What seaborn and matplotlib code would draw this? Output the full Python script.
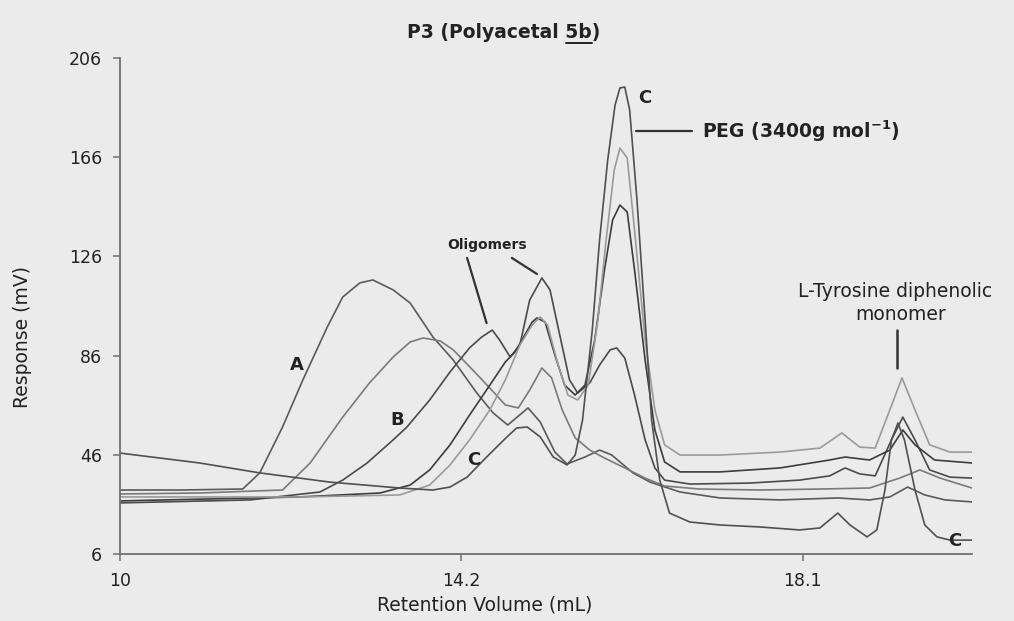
import numpy as np
import pandas as pd
import matplotlib
matplotlib.use("Agg")
import matplotlib.pyplot as plt
from matplotlib.lines import Line2D
import seaborn as sns

# ---------------- data ----------------
a_x = [10.00, 10.74, 11.51, 11.72, 12.00, 12.25, 12.55, 12.74, 12.95, 13.11, 13.36, 13.57, 13.85, 14.10,
       14.39, 14.59, 14.77, 14.90, 15.02, 15.17, 15.35, 15.50, 15.72, 15.90, 16.05, 16.31, 16.52, 16.89,
       17.38, 18.12, 18.83, 19.22, 19.47, 19.69, 19.90, 20.15, 20.48]
a_y = [31.8, 31.8, 32.2, 38.7, 57.2, 76.2, 97.5, 109.6, 115.3, 116.5, 112.5, 107.2, 93.5, 84.2,
       70.9, 62.9, 58.0, 61.6, 64.9, 59.2, 47.1, 42.3, 45.1, 47.9, 45.9, 38.7, 35.0, 31.0,
       28.6, 27.8, 28.6, 27.8, 29.0, 33.0, 29.8, 27.8, 27.0]

a2_x = [10.00, 10.98, 12.00, 12.34, 12.74, 13.07, 13.36, 13.57, 13.73, 13.94, 14.10, 14.34, 14.55, 14.74,
        14.90, 15.04, 15.19, 15.31, 15.44, 15.60, 15.78, 15.96, 16.21, 16.46, 16.70, 17.13, 17.87, 18.61,
        19.22, 19.59, 19.84, 20.09, 20.48]
a2_y = [30.2, 30.6, 31.8, 42.7, 61.2, 75.0, 85.4, 91.5, 93.1, 91.9, 88.3, 80.2, 72.9, 66.1,
        64.9, 72.1, 81.0, 77.0, 64.1, 52.8, 47.9, 44.7, 40.7, 36.6, 33.4, 32.2, 31.8, 32.2,
        32.6, 36.6, 39.9, 36.6, 32.6]

b_x = [10.00, 11.60, 12.46, 12.74, 13.04, 13.36, 13.53, 13.81, 14.06, 14.30, 14.45, 14.58, 14.67, 14.80,
       14.92, 15.04, 15.19, 15.29, 15.41, 15.53, 15.63, 15.78, 15.90, 16.03, 16.11, 16.21, 16.33, 16.46,
       16.58, 16.70, 17.01, 17.75, 18.36, 18.73, 18.92, 19.10, 19.29, 19.49, 19.63, 19.78, 19.96, 20.21, 20.48]
b_y = [26.6, 27.8, 31.0, 35.8, 42.7, 52.0, 57.2, 68.1, 79.4, 89.1, 93.5, 96.3, 92.3, 85.4,
       90.3, 108.4, 117.3, 112.5, 94.3, 76.2, 70.9, 75.0, 82.2, 88.3, 89.1, 85.0, 70.1, 52.0,
       40.7, 35.8, 34.2, 34.6, 35.8, 37.5, 40.7, 38.3, 37.5, 52.0, 61.2, 52.0, 39.9, 37.0, 36.6]

t3_x = [10.00, 12.21, 13.20, 13.57, 13.81, 14.06, 14.30, 14.55, 14.74, 14.86, 14.98, 15.07, 15.13, 15.23,
        15.35, 15.47, 15.60, 15.72, 15.84, 15.96, 16.06, 16.15, 16.24, 16.33, 16.46, 16.58, 16.70, 16.89,
        17.38, 18.12, 18.73, 18.92, 19.22, 19.47, 19.63, 19.78, 20.02, 20.48]
t3_y = [27.4, 29.0, 30.6, 33.8, 39.9, 50.0, 62.0, 74.1, 83.4, 87.5, 94.3, 99.5, 101.2, 99.5,
        86.2, 74.1, 70.1, 74.1, 92.3, 120.5, 140.7, 146.7, 143.9, 120.5, 84.2, 56.0, 43.1, 39.1,
        39.1, 40.7, 43.9, 45.1, 43.9, 47.9, 56.0, 50.0, 43.9, 42.7]

t4_x = [10.00, 12.21, 13.44, 13.81, 14.06, 14.30, 14.55, 14.74, 14.92, 15.07, 15.17, 15.26, 15.39, 15.51,
        15.63, 15.76, 15.88, 15.98, 16.08, 16.15, 16.24, 16.33, 16.46, 16.58, 16.70, 16.89, 17.38, 18.12,
        18.61, 18.88, 19.10, 19.29, 19.47, 19.62, 19.78, 19.96, 20.21, 20.48]
t4_y = [29.0, 29.0, 29.8, 33.8, 41.9, 52.0, 64.1, 76.2, 90.3, 98.3, 101.6, 98.3, 82.2, 70.1,
        68.1, 74.1, 100.4, 132.6, 160.8, 169.7, 165.7, 136.6, 92.3, 64.1, 50.0, 45.9, 45.9, 47.1,
        48.7, 54.8, 49.1, 48.7, 64.1, 77.0, 64.1, 50.0, 47.1, 47.1]

c_x = [10.00, 10.98, 11.72, 12.58, 13.44, 13.85, 14.06, 14.27, 14.51, 14.76, 14.88, 15.01, 15.17, 15.33,
       15.50, 15.60, 15.69, 15.81, 15.90, 16.00, 16.09, 16.15, 16.21, 16.27, 16.36, 16.46, 16.54, 16.64,
       16.76, 17.01, 17.38, 17.87, 18.36, 18.61, 18.83, 18.98, 19.19, 19.31, 19.41, 19.49, 19.57, 19.65,
       19.78, 19.90, 20.05, 20.21, 20.48]
c_y = [46.7, 42.7, 38.7, 35.0, 32.6, 31.8, 33.0, 37.0, 45.1, 53.2, 56.8, 57.2, 53.2, 45.1,
       41.9, 45.9, 60.0, 96.3, 132.6, 164.9, 187.0, 193.9, 194.3, 185.0, 148.7, 100.4, 60.0, 35.8,
       22.5, 18.9, 17.7, 16.9, 15.7, 16.5, 22.5, 17.7, 12.9, 15.7, 31.8, 52.0, 58.8, 52.0,
       31.8, 17.7, 12.9, 11.6, 11.6]

trace_names = ["A", "A2", "B", "T3", "T4", "C"]
trace_x = [a_x, a2_x, b_x, t3_x, t4_x, c_x]
trace_y = [a_y, a2_y, b_y, t3_y, t4_y, c_y]

y_ticks = [6, 46, 86, 126, 166, 206]
x_ticks = [10, 14.2, 18.4]
x_tick_labels = ["10", "14.2", "18.1"]

# ---------------- styling ----------------
BG = "#ebebeb"
colors = {"A": "#5a5a5a", "A2": "#7a7a7a", "B": "#4a4a4a", "T3": "#3c3c3c", "T4": "#9a9a9a", "C": "#505050"}

sns.set_theme(style="white")
plt.rcParams['font.family'] = ['DejaVu Sans']
plt.rcParams['mathtext.default'] = 'regular'

frames = []
for n, xs, ys in zip(trace_names, trace_x, trace_y):
    frames.append(pd.DataFrame({"volume": xs, "response": ys, "trace": n}))
df = pd.concat(frames, ignore_index=True)

fig = plt.figure(figsize=(10.14, 6.21), dpi=100, facecolor=BG)
ax = fig.add_axes([0.1183, 0.1079, 0.8402, 0.7987])
ax.set_facecolor(BG)

sns.lineplot(data=df, x="volume", y="response", hue="trace", palette=colors,
             estimator=None, sort=False, legend=False, linewidth=1.2, ax=ax)

ax.set_xlim(10, 20.48)
ax.set_ylim(6, 206)
ax.set_xticks(x_ticks)
ax.set_xticklabels(x_tick_labels)
ax.set_yticks(y_ticks)
ax.set_xlabel("")
ax.set_ylabel("")
for s in ["top", "right"]:
    ax.spines[s].set_visible(False)
for s in ["left", "bottom"]:
    ax.spines[s].set_color("#707070")
    ax.spines[s].set_linewidth(1.3)
ax.tick_params(bottom=True, left=True, direction="out", length=5, width=1.1,
               color="#707070", labelsize=12.5, labelcolor="#222222", pad=8)

# axis titles
fig.text(0.478, 0.025, "Retention Volume (mL)", ha="center", va="center", fontsize=13.5, color="#222222")
fig.text(0.022, 0.457, "Response (mV)", ha="center", va="center", rotation=90, fontsize=13.5, color="#222222")

# annotations
lab = dict(fontsize=13, fontweight="bold", color="#222222", ha="center", va="center")
ax.text(12.18, 82.2, "A", **lab)
ax.text(13.41, 60.0, "B", **lab)
ax.text(14.35, 43.9, "C", **lab)
ax.text(16.46, 190.0, "C", **lab)
ax.text(20.27, 11.2, "C", **lab)

ax.text(14.52, 130.6, "Oligomers", fontsize=10, fontweight="bold", color="#222222", ha="center", va="center")
ax.plot([14.27, 14.51], [125.4, 99.1], color="#333333", lw=1.6)
ax.plot([14.82, 15.13], [125.4, 118.9], color="#333333", lw=1.6)

ax.plot([16.35, 17.04], [176.6, 176.6], color="#333333", lw=1.6)
ax.text(17.16, 176.6, r"PEG (3400g mol$^{-1}$)", fontsize=13.5, fontweight="bold", color="#222222",
        ha="left", va="center")

ax.text(19.53, 112.0, "L-Tyrosine diphenolic", fontsize=13.5, color="#222222", ha="center", va="center",
        clip_on=False)
ax.text(19.6, 102.6, "monomer", fontsize=13.5, color="#222222", ha="center", va="center")
ax.plot([19.56, 19.56], [96.3, 81.0], color="#333333", lw=1.8)

# title with underlined "5b"
t_pre, t_ul, t_post = "P3 (Polyacetal ", "5b", ")"
tfs = 13.5
tt = fig.text(0.497, 0.948, t_pre + t_ul + t_post, ha="center", va="center", fontsize=tfs,
              fontweight="bold", color="#222222")
fig.canvas.draw()
r = fig.canvas.get_renderer()
bb = tt.get_window_extent(r)
tmp = fig.text(0, 0, t_pre, fontsize=tfs, fontweight="bold")
w_pre = tmp.get_window_extent(r).width
tmp.remove()
tmp = fig.text(0, 0, t_ul, fontsize=tfs, fontweight="bold")
w_ul = tmp.get_window_extent(r).width
tmp.remove()
W, H = fig.bbox.width, fig.bbox.height
x0 = (bb.x0 + w_pre) / W
x1 = (bb.x0 + w_pre + w_ul) / W
yu = (bb.y0 - 1) / H
fig.add_artist(Line2D([x0, x1], [yu, yu], transform=fig.transFigure, color="#222222", lw=1.4))

fig.savefig("out.png", dpi=100, facecolor=BG)
